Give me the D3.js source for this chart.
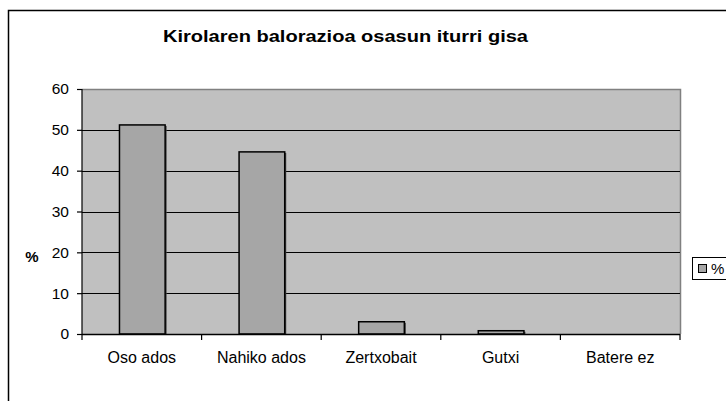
<!DOCTYPE html>
<html><head><meta charset="utf-8">
<script src="https://cdn.jsdelivr.net/npm/d3@7"></script>
<style>body{margin:0;background:#fff}svg{display:block;font-family:"Liberation Sans",Arial,sans-serif}</style>
</head><body><svg id="c" width="726" height="401"></svg>
<script>
const categories = ["Oso ados","Nahiko ados","Zertxobait","Gutxi","Batere ez"];
const values = [51.2, 44.6, 3.0, 0.8, 0];
const yTicks = [0,10,20,30,40,50,60];
const seriesName = "%";
const title = "Kirolaren balorazioa osasun iturri gisa";

const svg = d3.select("#c");
const m = {l:82, r:680, t:89, b:334};
// outer frame
svg.append("rect").attr("x",8.5).attr("y",10.5).attr("width",760).attr("height",420)
  .attr("fill","#fff").attr("stroke","#000").attr("stroke-width",1.5);

const x = d3.scaleBand().domain(categories).range([m.l,m.r]).paddingInner(0).paddingOuter(0);
const y = d3.scaleLinear().domain([0,60]).range([m.b,m.t]);

svg.append("rect").attr("x",m.l).attr("y",m.t).attr("width",m.r-m.l).attr("height",m.b-m.t)
  .attr("fill","#c0c0c0");
// gray border top/right
svg.append("path").attr("d",`M${m.l},${m.t+0.5}H${m.r+0.5}V${m.b}`).attr("fill","none").attr("stroke","#808080").attr("stroke-width",1.5);
// gridlines
svg.append("g").selectAll("line").data(yTicks.filter(t=>t>0&&t<60)).join("line")
  .attr("x1",m.l).attr("x2",m.r).attr("y1",d=>Math.round(y(d))+0.5).attr("y2",d=>Math.round(y(d))+0.5)
  .attr("stroke","#000").attr("stroke-width",1.2);

// bars
const bw = x.bandwidth()*0.39;
const barData = values.map((v,i)=>({c:categories[i],v})).filter(d=>d.v>0);
const bars = svg.append("g");
bars.selectAll("rect.s").data(barData).join("rect").attr("class","s")
  .attr("x",d=>x(d.c)+x.bandwidth()/2+bw/2).attr("y",d=>y(d.v)+1).attr("width",1.5).attr("height",d=>m.b-y(d.v)-1)
  .attr("fill","#404040");
bars.selectAll("rect.b").data(barData).join("rect").attr("class","b")
  .attr("x",d=>x(d.c)+x.bandwidth()/2-bw/2+1).attr("y",d=>y(d.v)).attr("width",bw-1).attr("height",d=>m.b-y(d.v))
  .attr("fill","#a6a6a6").attr("stroke","#000").attr("stroke-width",1.5);

// y axis
const ya = svg.append("g").attr("transform",`translate(${m.l},0)`)
  .call(d3.axisLeft(y).tickValues(yTicks).tickSize(5).tickPadding(8));
ya.select(".domain").attr("stroke","#000").attr("stroke-width",1.2).attr("d",`M0,${m.t}V${m.b}`);
ya.selectAll(".tick line").attr("stroke","#000").attr("stroke-width",1.2);
ya.selectAll("text").attr("font-size",15.5).attr("font-family","Liberation Sans, Arial").attr("fill","#000");

// x axis
const xa = svg.append("g").attr("transform",`translate(0,${m.b})`)
  .call(d3.axisBottom(x).tickSize(0).tickPadding(18));
xa.select(".domain").attr("stroke","#000").attr("stroke-width",1.5).attr("d",`M${m.l},0.5H${m.r}`);
xa.selectAll("text").attr("font-size",16).attr("font-family","Liberation Sans, Arial").attr("fill","#000");
svg.append("g").selectAll("line").data(categories.concat([null])).join("line")
  .attr("x1",(d,i)=>i<categories.length? x(d): m.r).attr("x2",(d,i)=>i<categories.length? x(d): m.r)
  .attr("y1",m.b).attr("y2",m.b+6).attr("stroke","#000").attr("stroke-width",1.2);

// title
svg.append("text").attr("x",345.5).attr("y",42).attr("text-anchor","middle")
  .attr("font-weight","bold").attr("font-size",16.5)
  .attr("textLength",365).attr("lengthAdjust","spacingAndGlyphs").text(title);
// y label
svg.append("text").attr("x",32).attr("y",262).attr("text-anchor","middle")
  .attr("font-weight","bold").attr("font-size",15).text(seriesName);

// legend
svg.append("rect").attr("x",692.5).attr("y",257.5).attr("width",60).attr("height",22)
  .attr("fill","#fff").attr("stroke","#000").attr("stroke-width",1);
svg.append("rect").attr("x",698.5).attr("y",264.5).attr("width",8).attr("height",8)
  .attr("fill","#a6a6a6").attr("stroke","#000").attr("stroke-width",1);
svg.append("text").attr("x",711).attr("y",274).attr("font-size",15).text(seriesName);
</script></body></html>
